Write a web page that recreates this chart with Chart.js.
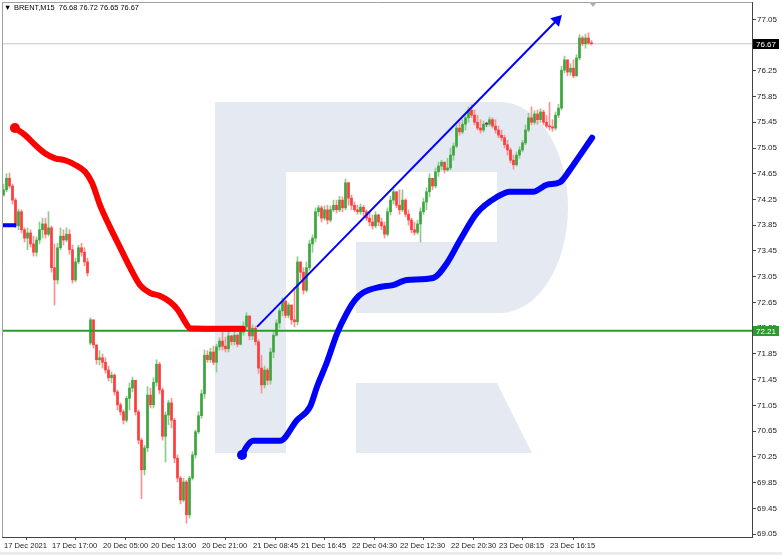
<!DOCTYPE html>
<html>
<head>
<meta charset="utf-8">
<script src="https://cdn.jsdelivr.net/npm/chart.js@4.4.0/dist/chart.umd.min.js"></script>
<style>
html, body { margin: 0; padding: 0; background: #fff; }
canvas { display: block; }
</style>
</head>
<body>
<canvas id="chart" width="782" height="555"></canvas>
<script>
var symbol = 'BRENT,M15';

// bar index where a time label sits, and the label text
var timeTickBars = [0, 16, 33, 49, 66, 83, 99, 116, 132, 149, 165, 182];
var timeTickLabels = ['17 Dec 2021', '17 Dec 17:00', '20 Dec 05:00', '20 Dec 13:00', '20 Dec 21:00',
    '21 Dec 08:45', '21 Dec 16:45', '22 Dec 04:30', '22 Dec 12:30', '22 Dec 20:30',
    '23 Dec 08:15', '23 Dec 16:15'];

var priceTicks = [69.05, 69.45, 69.85, 70.25, 70.65, 71.05, 71.45, 71.85, 72.25, 72.65, 73.05,
    73.45, 73.85, 74.25, 74.65, 75.05, 75.45, 75.85, 76.25, 76.65, 77.05];

// M15 candles (open = previous close, except the first bar and the weekend gap)
var firstOpen = 74.32;
var gapBars = [29];
var gapOpens = [72.02];

var closes = [
    74.40, 74.58, 74.46, 74.24, 73.84, 74.06, 73.78, 73.65, 73.73, 73.56,
    73.43, 73.62, 73.78, 73.87, 73.71, 73.81, 73.19, 73.00, 73.50, 73.68,
    73.62, 73.71, 73.47, 73.00, 73.28, 73.50, 73.43, 73.28, 73.11,
    72.38, 71.99, 71.76, 71.79, 71.72, 71.60, 71.48, 71.52, 71.26, 71.06, 70.95,
    70.82, 71.16, 71.32, 71.44, 70.95, 70.51, 70.05, 70.39, 71.21, 71.06,
    71.41, 71.69, 71.29, 70.57, 70.90, 71.09, 70.82, 70.23, 69.92, 69.58,
    69.86, 69.35, 69.92, 70.28, 70.64, 70.89, 71.23, 71.83, 71.76, 71.88,
    71.72, 71.96, 72.05, 71.97, 71.93, 72.13, 72.04, 72.14, 72.00, 72.19,
    72.27, 72.44, 72.13, 72.25, 72.04, 71.63, 71.37, 71.60, 71.44, 71.88,
    72.14, 72.33, 72.52, 72.67, 72.45, 72.61, 72.38, 72.35, 73.28, 73.12,
    72.84, 73.19, 73.56, 73.65, 74.06, 74.12, 73.96, 74.09, 73.93, 74.09,
    74.16, 74.09, 74.24, 74.12, 74.51, 74.27, 74.16, 74.09, 74.06, 74.13,
    74.06, 73.96, 73.90, 73.84, 74.01, 73.90, 73.84, 73.71, 74.06, 74.24,
    74.37, 74.16, 74.09, 74.24, 74.02, 73.93, 73.78, 73.74, 73.87, 74.06,
    74.21, 74.37, 74.58, 74.46, 74.68, 74.77, 74.83, 74.71, 74.74, 74.94,
    75.08, 75.36, 75.30, 75.42, 75.52, 75.64, 75.56, 75.45, 75.36, 75.33,
    75.42, 75.42, 75.49, 75.39, 75.33, 75.25, 75.21, 75.10, 75.02, 74.86,
    74.79, 74.94, 75.02, 75.13, 75.33, 75.52, 75.45, 75.58, 75.49, 75.61,
    75.45, 75.39, 75.38, 75.36, 75.56, 75.67, 76.26, 76.42, 76.23, 76.29,
    76.17, 76.45, 76.76, 76.67, 76.76, 76.68, 76.67
];
var highs = [
    74.49, 74.65, 74.66, 74.49, 74.27, 74.10, 74.09, 73.81, 73.81, 73.78,
    73.68, 73.67, 73.90, 73.96, 73.96, 74.06, 73.84, 73.56, 73.57, 73.81,
    73.78, 73.81, 73.78, 73.54, 73.34, 73.54, 73.57, 73.50, 73.34,
    72.41, 72.38, 71.88, 71.90, 71.85, 71.79, 71.66, 71.57, 71.54, 71.29, 71.09,
    70.98, 71.19, 71.40, 71.49, 71.41, 70.98, 70.54, 70.43, 71.34, 71.32,
    71.48, 71.76, 71.72, 71.32, 70.95, 71.13, 71.16, 70.85, 70.28, 69.95,
    69.92, 69.89, 69.95, 70.33, 70.67, 70.95, 71.29, 71.91, 71.90, 71.94,
    71.97, 72.00, 72.10, 72.19, 72.11, 72.22, 72.14, 72.19, 72.16, 72.28,
    72.35, 72.49, 72.41, 72.30, 72.28, 72.07, 71.83, 71.66, 71.63, 71.94,
    72.19, 72.38, 72.56, 72.72, 72.69, 72.64, 72.61, 72.89, 73.36, 73.28,
    73.19, 73.28, 73.62, 73.70, 74.12, 74.16, 74.15, 74.15, 74.16, 74.15,
    74.24, 74.24, 74.30, 74.29, 74.57, 74.52, 74.32, 74.21, 74.16, 74.18,
    74.16, 74.09, 74.06, 74.01, 74.06, 74.02, 73.96, 73.90, 74.12, 74.30,
    74.41, 74.37, 74.40, 74.40, 74.26, 74.09, 73.96, 73.90, 73.93, 74.12,
    74.27, 74.43, 74.65, 74.58, 74.74, 74.83, 74.86, 74.83, 74.89, 75.05,
    75.13, 75.41, 75.45, 75.49, 75.56, 75.69, 75.72, 75.64, 75.56, 75.49,
    75.47, 75.45, 75.53, 75.52, 75.49, 75.39, 75.33, 75.25, 75.17, 75.05,
    74.94, 74.99, 75.07, 75.17, 75.41, 75.59, 75.69, 75.63, 75.64, 75.66,
    75.64, 75.56, 75.76, 75.49, 75.61, 75.73, 76.32, 76.48, 76.42, 76.36,
    76.42, 76.50, 76.81, 76.79, 76.82, 76.84, 76.72
];
var lows = [
    74.30, 74.37, 74.43, 74.18, 73.81, 73.78, 73.73, 73.59, 73.47, 73.51,
    73.37, 73.37, 73.56, 73.65, 73.65, 73.68, 73.12, 72.61, 72.94, 73.47,
    73.54, 73.59, 73.40, 72.95, 72.97, 73.25, 73.37, 73.22, 73.06,
    71.99, 71.94, 71.69, 71.68, 71.63, 71.55, 71.43, 71.40, 71.21, 70.98, 70.90,
    70.76, 70.79, 70.98, 71.26, 70.90, 70.45, 69.60, 69.97, 70.33, 71.01,
    71.01, 71.35, 71.23, 70.51, 70.17, 70.75, 70.70, 70.16, 69.86, 69.52,
    69.55, 69.22, 69.30, 69.89, 70.23, 70.61, 70.85, 71.16, 71.72, 71.72,
    71.68, 71.57, 71.91, 71.91, 71.88, 71.88, 71.99, 71.99, 71.96, 71.99,
    72.14, 72.22, 72.07, 72.07, 71.99, 71.55, 71.24, 71.32, 71.37, 71.38,
    71.79, 72.13, 72.25, 72.44, 72.41, 72.41, 72.31, 72.27, 72.30, 73.00,
    72.78, 72.81, 73.15, 73.43, 73.59, 73.99, 73.90, 73.93, 73.87, 73.90,
    74.06, 74.04, 74.06, 74.06, 74.09, 74.16, 74.09, 74.06, 74.02, 74.02,
    73.99, 73.92, 73.84, 73.79, 73.81, 73.84, 73.78, 73.65, 73.68, 74.01,
    74.18, 74.12, 74.02, 74.06, 73.98, 73.85, 73.73, 73.70, 73.71, 73.59,
    74.02, 74.09, 74.29, 74.40, 74.43, 74.61, 74.71, 74.66, 74.69, 74.71,
    74.86, 75.05, 75.25, 75.27, 75.33, 75.45, 75.52, 75.41, 75.33, 75.28,
    75.30, 75.38, 75.39, 75.36, 75.28, 75.21, 75.16, 75.05, 74.94, 74.82,
    74.72, 74.77, 74.89, 74.99, 75.10, 75.30, 75.41, 75.42, 75.42, 75.45,
    75.41, 75.36, 75.33, 75.31, 75.33, 75.52, 75.64, 76.22, 76.17, 76.18,
    76.14, 76.26, 76.42, 76.64, 76.60, 76.66, 76.65
];

// moving averages, read at a few bars
var redMaBars = [4.3, 7.7, 11, 14.3, 17.7, 21, 24.3, 27.7, 30, 32.7, 36, 39.3, 42.7, 46, 49.3, 52.7, 56, 58.7, 61, 62.7, 80.3];
var redMaValues = [75.36, 75.25, 75.10, 74.97, 74.89, 74.86, 74.79, 74.68, 74.51, 74.16, 73.82, 73.51, 73.19, 72.92, 72.80, 72.75, 72.66, 72.53, 72.35, 72.25, 72.24];

var blueMaBars = [80, 81.7, 83.7, 92.7, 98.3, 102.7, 105, 108.3, 111.7, 115, 117.7, 120.3, 126, 130.3, 135,
    143.7, 148.3, 152.7, 158.3, 165, 169.3, 177, 181.7, 186, 189.3, 192.7, 196.7];
var blueMaValues = [70.28, 70.42, 70.50, 70.50, 70.82, 71.03, 71.34, 71.72, 72.17, 72.49, 72.69, 72.80, 72.89, 72.92, 73.00,
    73.03, 73.26, 73.62, 74.04, 74.29, 74.37, 74.37, 74.48, 74.52, 74.71, 74.94, 75.21];

var blueStubBars = [0, 4.7];
var blueStubValues = [73.85, 73.85];

var arrowBars = [85, 185];
var arrowValues = [72.27, 77.04];

var supportLevel = 72.21;

var FONT = "'Liberation Sans', Arial, sans-serif";
var X_MAX = 250;

var opens = closes.map(function(c, i) {
    var g = gapBars.indexOf(i);
    if (g >= 0) return gapOpens[g];
    return i == 0 ? firstOpen : closes[i - 1];
});
var lastBar = closes.length - 1;
var lastPrice = closes[lastBar];

function candleColor(i, bull, bear, doji) {
    if (closes[i] > opens[i]) return bull;
    if (closes[i] < opens[i]) return bear;
    return doji;
}

var wickData = [], bodyData = [], wickColors = [], bodyColors = [];
closes.forEach(function(c, i) {
    var o = opens[i];
    wickData.push({ x: i + 0.5, y: [Math.min(lows[i], o, c), Math.max(highs[i], o, c)] });
    bodyData.push({ x: i + 0.5, y: [o, c] });
    wickColors.push(candleColor(i, '#8ccc8c', '#ff9090', '#888888'));
    bodyColors.push(candleColor(i, '#3ea53e', '#ff3c3c', '#404040'));
});

function pairs(xs, ys) {
    return xs.map(function(x, i) { return { x: x, y: ys[i] }; });
}

// RoboForex-like "R" watermark behind the candles
var watermark = {
    id: 'watermark',
    beforeDatasetsDraw: function(chart) {
        var ctx = chart.ctx;
        ctx.save();
        ctx.fillStyle = 'rgb(228,233,242)';
        ctx.fillRect(215, 102, 71, 351);
        ctx.beginPath();
        ctx.moveTo(286, 102);
        ctx.lineTo(500, 102);
        ctx.ellipse(500, 207.5, 68, 105.5, 0, -Math.PI / 2, Math.PI / 2, false);
        ctx.lineTo(356, 313);
        ctx.lineTo(356, 242);
        ctx.lineTo(497, 242);
        ctx.lineTo(497, 172);
        ctx.lineTo(286, 172);
        ctx.closePath();
        ctx.fill();
        ctx.beginPath();
        ctx.moveTo(356, 383);
        ctx.lineTo(497, 383);
        ctx.lineTo(532, 453);
        ctx.lineTo(356, 453);
        ctx.closePath();
        ctx.fill();
        ctx.restore();
    }
};

var terminal = {
    id: 'terminal',
    afterDraw: function(chart) {
        var ctx = chart.ctx, a = chart.chartArea, ys = chart.scales.y;
        ctx.save();
        // frame
        ctx.strokeStyle = '#a0a0a0';
        ctx.lineWidth = 1;
        ctx.beginPath();
        ctx.moveTo(a.left + 0.5, a.bottom);
        ctx.lineTo(a.left + 0.5, a.top + 0.5);
        ctx.lineTo(a.right, a.top + 0.5);
        ctx.stroke();

        // header
        ctx.fillStyle = '#000';
        ctx.font = '7.4px ' + FONT;
        ctx.textBaseline = 'middle';
        ctx.textAlign = 'left';
        ctx.fillText('\u25BC', 4, 8);
        var hdr = symbol + '  ' + opens[lastBar].toFixed(2) + ' ' + highs[lastBar].toFixed(2) + ' ' +
            lows[lastBar].toFixed(2) + ' ' + lastPrice.toFixed(2);
        ctx.fillText(hdr, 14, 8);

        // price boxes on the axis
        ctx.font = '8px ' + FONT;
        [[lastPrice, '#000000'], [supportLevel, '#2c9a2c']].forEach(function(p) {
            var y = Math.round(ys.getPixelForValue(p[0]));
            ctx.fillStyle = p[1];
            ctx.fillRect(a.right + 1, y - 5, 26, 10);
            ctx.fillStyle = '#fff';
            ctx.fillText(p[0].toFixed(2), a.right + 4, y + 0.5);
        });

        // shift marker
        var sx = chart.scales.x.getPixelForValue(lastBar + 1);
        ctx.fillStyle = '#b0b0b0';
        ctx.beginPath();
        ctx.moveTo(sx - 4, a.top);
        ctx.lineTo(sx + 4, a.top);
        ctx.lineTo(sx, a.top + 5);
        ctx.closePath();
        ctx.fill();

        // tab strip
        ctx.fillStyle = '#ececec';
        ctx.fillRect(0, chart.height - 3, chart.width, 3);
        ctx.restore();
    }
};

new Chart(document.getElementById('chart'), {
    type: 'bar',
    data: {
        datasets: [
            {
                type: 'line', data: [{ x: 0, y: lastPrice }, { x: X_MAX, y: lastPrice }],
                borderColor: '#c8c8c8', borderWidth: 1, pointRadius: 0, order: 10
            },
            {
                data: wickData, backgroundColor: wickColors, barThickness: 1,
                grouped: false, order: 9
            },
            {
                data: bodyData, backgroundColor: bodyColors, barThickness: 2,
                grouped: false, minBarLength: 1, order: 8
            },
            {
                type: 'line', data: [{ x: 0, y: supportLevel }, { x: X_MAX, y: supportLevel }],
                borderColor: '#2c9a2c', borderWidth: 2, pointRadius: 0, order: 7
            },
            {
                type: 'line', data: pairs(redMaBars, redMaValues),
                borderColor: '#ff0000', borderWidth: 6, cubicInterpolationMode: 'monotone',
                borderCapStyle: 'round', borderJoinStyle: 'round',
                pointRadius: function(c) { return c.dataIndex == 0 ? 5 : 0; },
                pointBackgroundColor: '#ff0000', pointBorderWidth: 0, order: 6
            },
            {
                type: 'line', data: pairs(blueStubBars, blueStubValues),
                borderColor: '#0000ff', borderWidth: 4, pointRadius: 0, order: 5
            },
            {
                type: 'line', data: pairs(blueMaBars, blueMaValues),
                borderColor: '#0000ff', borderWidth: 6, cubicInterpolationMode: 'monotone',
                borderCapStyle: 'round', borderJoinStyle: 'round',
                pointRadius: function(c) { return c.dataIndex == 0 ? 5 : 0; },
                pointBackgroundColor: '#0000ff', pointBorderWidth: 0, order: 4
            },
            {
                type: 'line', data: pairs(arrowBars, arrowValues),
                borderColor: '#0000ff', borderWidth: 2,
                pointStyle: 'triangle', pointRotation: 44,
                pointRadius: function(c) { return c.dataIndex == 1 ? 7 : 0; },
                pointBackgroundColor: '#0000ff', pointBorderWidth: 0, order: 3
            }
        ]
    },
    options: {
        responsive: false,
        animation: false,
        devicePixelRatio: 1,
        layout: { autoPadding: false, padding: { left: 2, top: 2, right: 0, bottom: 3 } },
        plugins: { legend: { display: false }, tooltip: { enabled: false } },
        scales: {
            x: {
                type: 'linear', min: 0, max: X_MAX, offset: false,
                grid: { drawOnChartArea: false, tickLength: 3, color: '#444' },
                border: { color: '#444' },
                ticks: {
                    autoSkip: false, maxRotation: 0, align: 'start', padding: 1, labelOffset: 2,
                    color: '#222', font: { family: FONT, size: 7.6 },
                    callback: function(v, i) { return timeTickLabels[i]; }
                },
                afterBuildTicks: function(s) {
                    s.ticks = timeTickBars.map(function(b) { return { value: b }; });
                },
                afterFit: function(s) {
                    s.height = 15;
                    s.paddingLeft = 0;
                    s.paddingRight = 0;
                }
            },
            y: {
                position: 'right', min: 69.005, max: 77.319,
                grid: { drawOnChartArea: false, tickLength: 4, color: '#444' },
                border: { color: '#444' },
                ticks: {
                    padding: 1, color: '#222', font: { family: FONT, size: 8 },
                    callback: function(v) { return Number(v).toFixed(2); }
                },
                afterBuildTicks: function(s) {
                    s.ticks = priceTicks.map(function(p) { return { value: p }; });
                },
                afterFit: function(s) {
                    s.width = 30;
                    s.paddingTop = 0;
                    s.paddingBottom = 0;
                }
            }
        }
    },
    plugins: [watermark, terminal]
});
</script>
</body>
</html>
